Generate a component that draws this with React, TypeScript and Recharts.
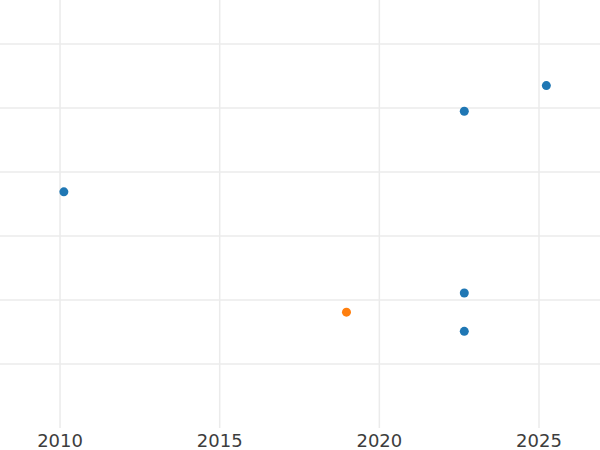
import { ScatterChart, Scatter, XAxis, YAxis, ReferenceLine } from "recharts";

// blue series
const blueYears = [2010.12, 2022.66, 2025.23, 2022.66, 2022.66];
const blueValues = [3.69, 4.95, 5.35, 2.11, 1.51];
// orange series
const orangeYears = [2018.97];
const orangeValues = [1.81];

const xTicks = [2010, 2015, 2020, 2025];
const yTicks = [1, 2, 3, 4, 5, 6];

const blueData = blueYears.map((x, i) => ({ x, y: blueValues[i] }));
const orangeData = orangeYears.map((x, i) => ({ x, y: orangeValues[i] }));

const gridColor = "#ebebeb";

export default function App() {
  return (
    <div style={{ position: "absolute", left: 0, top: 0 }}>
      <ScatterChart
        width={600}
        height={450}
        margin={{ top: 0, right: 0, bottom: 0, left: 0 }}
      >
        {/* grid lines only at the ticks, no border lines */}
        {xTicks.map((t) => (
          <ReferenceLine key={"x" + t} x={t} stroke={gridColor} strokeWidth={1.5} />
        ))}
        {yTicks.map((t) => (
          <ReferenceLine key={"y" + t} y={t} stroke={gridColor} strokeWidth={1.5} />
        ))}
        <XAxis
          type="number"
          dataKey="x"
          domain={[2008.12, 2026.91]}
          ticks={xTicks}
          height={22}
          axisLine={false}
          tickLine={false}
          tickSize={0}
          tickMargin={6}
          tick={{ fill: "#3d3d3d", fontSize: 18, fontFamily: "DejaVu Sans" }}
          allowDataOverflow
        />
        <YAxis
          type="number"
          dataKey="y"
          domain={[0, 6.6875]}
          ticks={yTicks}
          hide
          allowDataOverflow
        />
        <Scatter data={blueData} fill="#1f77b4" isAnimationActive={false} shape={(p: any) => <circle cx={p.cx} cy={p.cy} r={4.5} fill="#1f77b4" />} />
        <Scatter data={orangeData} fill="#ff7f0e" isAnimationActive={false} shape={(p: any) => <circle cx={p.cx} cy={p.cy} r={4.5} fill="#ff7f0e" />} />
      </ScatterChart>
    </div>
  );
}
